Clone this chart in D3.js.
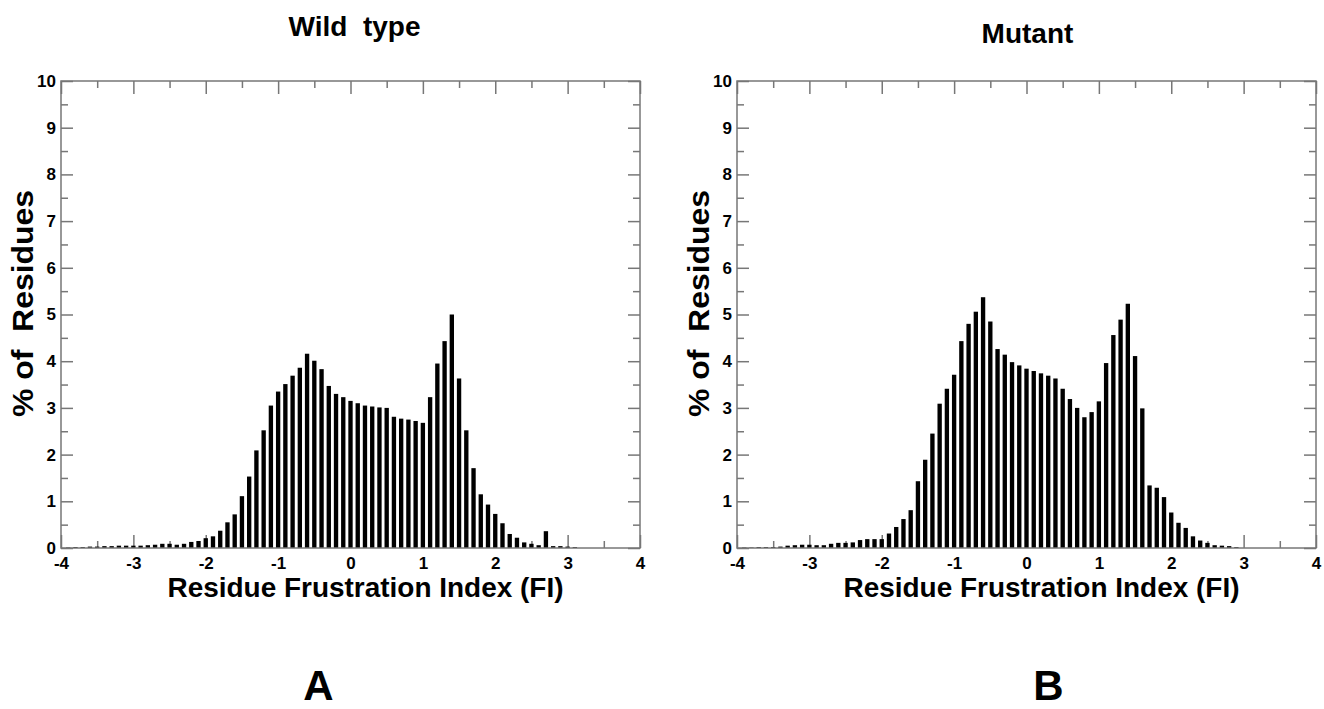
<!DOCTYPE html>
<html>
<head>
<meta charset="utf-8">
<script src="https://cdn.jsdelivr.net/npm/d3@7"></script>
<style>
  body { margin: 0; background: #fff; }
  text { font-family: "Liberation Sans", Arial, sans-serif; font-weight: bold; fill: #000; white-space: pre; }
</style>
</head>
<body>
<svg id="fig" width="1324" height="709"></svg>
<script>
// bin centres (FI), bin width 0.1
const binCenters = [
  -3.9, -3.8, -3.7, -3.6, -3.5, -3.4, -3.3, -3.2, -3.1, -3.0,
  -2.9, -2.8, -2.7, -2.6, -2.5, -2.4, -2.3, -2.2, -2.1, -2.0,
  -1.9, -1.8, -1.7, -1.6, -1.5, -1.4, -1.3, -1.2, -1.1, -1.0,
  -0.9, -0.8, -0.7, -0.6, -0.5, -0.4, -0.3, -0.2, -0.1, 0.0,
  0.1, 0.2, 0.3, 0.4, 0.5, 0.6, 0.7, 0.8, 0.9, 1.0,
  1.1, 1.2, 1.3, 1.4, 1.5, 1.6, 1.7, 1.8, 1.9, 2.0,
  2.1, 2.2, 2.3, 2.4, 2.5, 2.6, 2.7, 2.8, 2.9, 3.0, 3.1
];

const wildValues = [
  0.01, 0.02, 0.02, 0.03, 0.03, 0.04, 0.04, 0.05, 0.05, 0.05,
  0.05, 0.06, 0.07, 0.09, 0.09, 0.07, 0.09, 0.13, 0.15, 0.21,
  0.25, 0.37, 0.55, 0.72, 1.11, 1.53, 2.09, 2.52, 3.05, 3.35,
  3.51, 3.69, 3.86, 4.16, 4.01, 3.83, 3.47, 3.30, 3.23, 3.15,
  3.10, 3.05, 3.03, 3.01, 3.00, 2.81, 2.77, 2.75, 2.72, 2.68,
  3.23, 3.95, 4.43, 5.00, 3.63, 2.52, 1.71, 1.15, 0.93, 0.73,
  0.53, 0.30, 0.22, 0.12, 0.09, 0.06, 0.36, 0.04, 0.04, 0.03, 0.02
];

const mutantValues = [
  0.01, 0.01, 0.02, 0.02, 0.02, 0.03, 0.05, 0.06, 0.07, 0.07,
  0.06, 0.06, 0.09, 0.11, 0.11, 0.12, 0.17, 0.19, 0.19, 0.19,
  0.31, 0.45, 0.62, 0.81, 1.43, 1.89, 2.45, 3.09, 3.41, 3.71,
  4.43, 4.80, 5.06, 5.37, 4.85, 4.26, 4.14, 3.98, 3.91, 3.84,
  3.79, 3.74, 3.69, 3.63, 3.41, 3.19, 3.00, 2.80, 2.91, 3.14,
  3.96, 4.56, 4.89, 5.23, 4.11, 2.99, 1.34, 1.29, 1.09, 0.76,
  0.54, 0.43, 0.25, 0.16, 0.11, 0.06, 0.05, 0.04, 0.02, 0, 0
];

const xMajorTicks = [-4, -3, -2, -1, 0, 1, 2, 3, 4];
const xMinorTicks = [-3.5, -2.5, -1.5, -0.5, 0.5, 1.5, 2.5, 3.5];
const yMajorTicks = [0, 1, 2, 3, 4, 5, 6, 7, 8, 9, 10];
const yMinorTicks = [0.5, 1.5, 2.5, 3.5, 4.5, 5.5, 6.5, 7.5, 8.5, 9.5];

const panels = [
  { title: "Wild  type", letter: "A", values: wildValues, left: 61, titleY: 36, titleDx: 4, letterDx: -32 },
  { title: "Mutant", letter: "B", values: mutantValues, left: 737, titleY: 43, titleDx: 1, letterDx: 22 }
];

const svg = d3.select("#fig");
const plotW = 579, plotTop = 81, plotBottom = 548;
const axisColor = "#777";
const plain = d => String(d);

function drawPanel(p) {
  const x = d3.scaleLinear().domain([-4, 4]).range([p.left, p.left + plotW]);
  const y = d3.scaleLinear().domain([0, 10]).range([plotBottom, plotTop]);
  const g = svg.append("g");

  // tick marks pointing inward
  const axes = [
    [d3.axisBottom(x).tickValues(xMajorTicks).tickSize(-13).tickPadding(9).tickFormat(plain), `translate(0,${plotBottom})`],
    [d3.axisBottom(x).tickValues(xMinorTicks).tickSize(-7).tickFormat(""), `translate(0,${plotBottom})`],
    [d3.axisTop(x).tickValues(xMajorTicks).tickSize(-13).tickFormat(""), `translate(0,${plotTop})`],
    [d3.axisTop(x).tickValues(xMinorTicks).tickSize(-7).tickFormat(""), `translate(0,${plotTop})`],
    [d3.axisLeft(y).tickValues(yMajorTicks).tickSize(-12).tickPadding(5).tickFormat(plain), `translate(${p.left},0)`],
    [d3.axisLeft(y).tickValues(yMinorTicks).tickSize(-7).tickFormat(""), `translate(${p.left},0)`],
    [d3.axisRight(y).tickValues(yMajorTicks).tickSize(-12).tickFormat(""), `translate(${p.left + plotW},0)`],
    [d3.axisRight(y).tickValues(yMinorTicks).tickSize(-7).tickFormat(""), `translate(${p.left + plotW},0)`]
  ];
  axes.forEach(([ax, tr]) => {
    const a = g.append("g").attr("transform", tr).call(ax);
    a.select(".domain").remove();
    a.selectAll("line").attr("stroke", axisColor).attr("stroke-width", 1.5);
    a.selectAll("text").attr("font-size", 17).attr("fill", "#000")
      .style("font-family", "'Liberation Sans', Arial, sans-serif").style("font-weight", "bold");
  });

  // bars
  const bw = (x(0.1) - x(0)) * 0.6;
  g.append("g").selectAll("rect")
    .data(binCenters.map((c, i) => ({ c, v: p.values[i] })))
    .join("rect")
    .attr("x", d => x(d.c) - bw / 2)
    .attr("y", d => y(d.v))
    .attr("width", bw)
    .attr("height", d => plotBottom - y(d.v))
    .attr("fill", "#000");

  // frame
  g.append("rect")
    .attr("x", p.left).attr("y", plotTop)
    .attr("width", plotW).attr("height", plotBottom - plotTop)
    .attr("fill", "none").attr("stroke", axisColor).attr("stroke-width", 1.5);

  const cx = p.left + plotW / 2;
  g.append("text").attr("x", cx + p.titleDx).attr("y", p.titleY)
    .attr("text-anchor", "middle").attr("font-size", 28).text(p.title);

  g.append("text").attr("x", cx + 15).attr("y", 597)
    .attr("text-anchor", "middle").attr("font-size", 28)
    .attr("textLength", 396).attr("lengthAdjust", "spacingAndGlyphs")
    .text("Residue Frustration Index (FI)");

  g.append("text")
    .attr("transform", `translate(${p.left - 28},${(plotTop + plotBottom) / 2 - 11}) rotate(-90)`)
    .attr("text-anchor", "middle").attr("font-size", 29)
    .attr("textLength", 227).attr("lengthAdjust", "spacingAndGlyphs")
    .text("% of  Residues");

  g.append("text").attr("x", cx + p.letterDx).attr("y", 700)
    .attr("text-anchor", "middle").attr("font-size", 42)
    .text(p.letter);
}

panels.forEach(drawPanel);
</script>
</body>
</html>
